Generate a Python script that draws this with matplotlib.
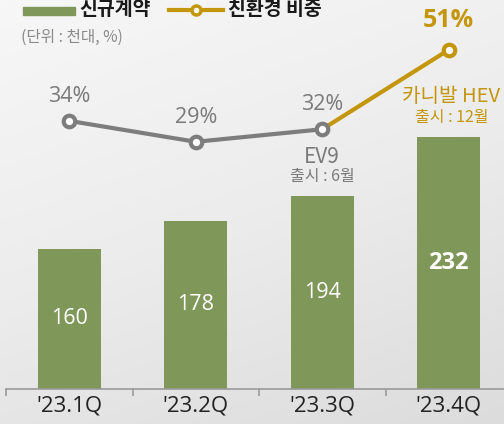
import numpy as np
import matplotlib.pyplot as plt
from matplotlib.lines import Line2D
from matplotlib.patches import Rectangle
from matplotlib.colors import LinearSegmentedColormap

plt.rcParams['font.family'] = ['Noto Sans CJK KR', 'DejaVu Sans']

quarters = ["'23.1Q", "'23.2Q", "'23.3Q", "'23.4Q"]
contracts = [160, 178, 194, 232]      # 천대
eco_share = [34, 29, 32, 51]          # %

GREEN = '#7f985a'
GOLD = '#c4960c'
GREY = '#7d7d7d'
TXT_GREY = '#7a7a7a'

fig = plt.figure(figsize=(5.04, 4.24), dpi=100)

# background gradient (light top-left -> slightly darker bottom)
bg = fig.add_axes([0, 0, 1, 1], zorder=-10)
yy, xx = np.mgrid[0:1:200j, 0:1:200j]
grad = 0.7 * yy + 0.3 * xx
bg_cmap = LinearSegmentedColormap.from_list('bg', ['#f7f7f7', '#ececec', '#dcdcdc'])
bg.imshow(grad, cmap=bg_cmap, vmin=0, vmax=1, aspect='auto', extent=[0, 1, 0, 1], origin='upper')
bg.set_axis_off()

ax = fig.add_axes([6 / 504, 35 / 424, 506 / 504, 389 / 424])
ax.patch.set_alpha(0)
x = np.arange(len(quarters))
ax.bar(x, contracts, width=0.5, color=GREEN, zorder=2)
ax.set_xlim(-0.5, 3.5)
ax.set_ylim(70, 320)

for s in ['top', 'right', 'left']:
    ax.spines[s].set_visible(False)
ax.spines['bottom'].set_color('#9a9a9a')
ax.spines['bottom'].set_linewidth(1.2)
ax.set_yticks([])
ax.set_xticks(np.arange(-0.5, 4, 1))
ax.set_xticklabels([])
ax.tick_params(axis='x', which='major', length=5, width=1.2, color='#9a9a9a')
ax.set_xticks(x, minor=True)
ax.set_xticklabels(quarters, minor=True, fontsize=16, color='#222222',
                   family=['Open Sans', 'DejaVu Sans'])
ax.tick_params(axis='x', which='minor', length=0, pad=5)

for i, v in enumerate(contracts):
    ax.text(i, (70 + v) / 2, str(v), ha='center', va='center', color='white',
            fontsize=17 if i == 3 else 15.5, fontweight='bold' if i == 3 else 'normal',
            family=['Open Sans', 'DejaVu Sans'])

ax2 = ax.twinx()
ax2.set_ylim(-30.1, 62.9)
ax2.set_yticks([])
for s in ax2.spines.values():
    s.set_visible(False)

ax2.plot(x[2:], eco_share[2:], color=GOLD, lw=3, zorder=3, solid_capstyle='butt')
ax2.plot(x[:3], eco_share[:3], color=GREY, lw=3, zorder=4, marker='o', ms=8.3,
         mfc='white', mec=GREY, mew=3)
ax2.plot(x[3:], eco_share[3:], color=GOLD, lw=0, zorder=4, marker='o', ms=8.3,
         mfc='white', mec=GOLD, mew=3)

for i, v in enumerate(eco_share):
    if i == 3:
        ax2.annotate(f'{v}%', (i, v), xytext=(0, 21), textcoords='offset points',
                     ha='center', va='center', color=GOLD, fontsize=18, fontweight='bold',
                     family=['Open Sans', 'DejaVu Sans'])
    else:
        ax2.annotate(f'{v}%', (i, v), xytext=(0, 17.5), textcoords='offset points',
                     ha='center', va='center', color=TXT_GREY, fontsize=15.5,
                     family=['Open Sans', 'DejaVu Sans'])

# event notes
ax2.annotate('EV9', (2, eco_share[2]), xytext=(0, -20), textcoords='offset points',
             ha='center', va='center', color=TXT_GREY, fontsize=15)
ax2.annotate('출시 : 6월', (2, eco_share[2]), xytext=(0, -34), textcoords='offset points',
             ha='center', va='center', color=TXT_GREY, fontsize=11.5)
ax2.annotate('카니발 HEV', (3, eco_share[3]), xytext=(2, -34), textcoords='offset points',
             ha='center', va='center', color=GOLD, fontsize=14.5)
ax2.annotate('출시 : 12월', (3, eco_share[3]), xytext=(2, -48.5), textcoords='offset points',
             ha='center', va='center', color=GOLD, fontsize=11.5)

# legend
H = 424
fig.add_artist(Rectangle((23 / 504, 1 - 15 / H), 52 / 504, 8 / H, color=GREEN,
                         transform=fig.transFigure))
fig.text(79 / 504, 1 - 9.5 / H, '신규계약', fontsize=14, fontweight='bold', va='center',
         color='#1a1a1a')
fig.add_artist(Line2D([169 / 504, 223 / 504], [1 - 9.5 / H] * 2, color=GOLD, lw=3,
                      transform=fig.transFigure))
fig.add_artist(Line2D([196 / 504], [1 - 9.5 / H], color=GOLD, marker='o', ms=6.5,
                      mfc='white', mec=GOLD, mew=2.5, transform=fig.transFigure))
fig.text(228 / 504, 1 - 9.5 / H, '친환경 비중', fontsize=14, fontweight='bold', va='center',
         color='#1a1a1a')
fig.text(21 / 504, 1 - 37 / H, '(단위 : 천대, %)', fontsize=11.3, va='center', color='#8a8a8a')

fig.savefig('out.png', dpi=100)
